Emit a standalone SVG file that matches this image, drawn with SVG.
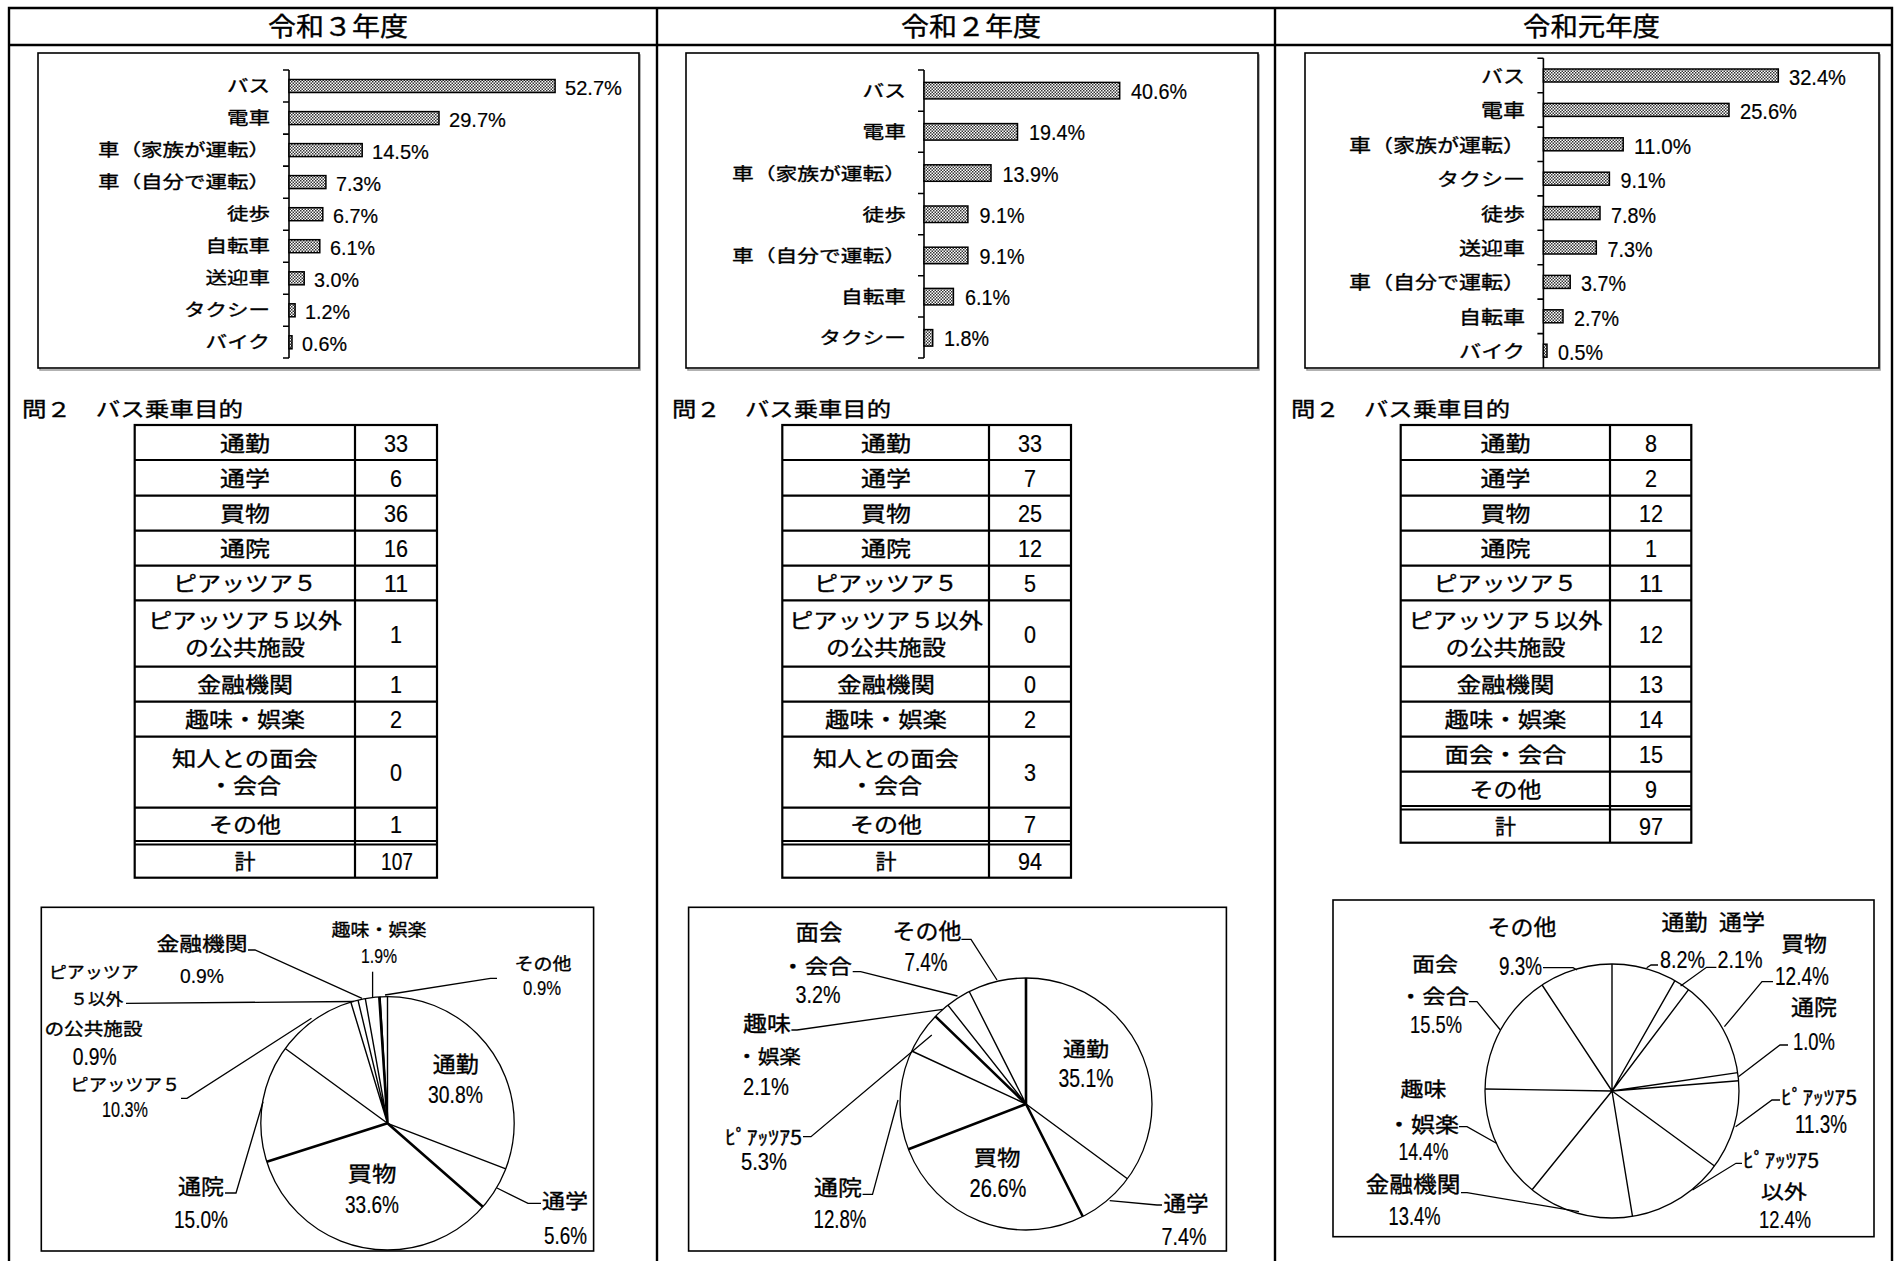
<svg xmlns="http://www.w3.org/2000/svg" width="1895" height="1261" viewBox="0 0 1895 1261">
<defs>
<pattern id="dots" width="3" height="3" patternUnits="userSpaceOnUse"><rect width="3" height="3" fill="#fff"/><rect width="1.5" height="1.5" fill="#333"/><rect x="1.5" y="1.5" width="1.5" height="1.5" fill="#333"/></pattern>
<style>
.j{font-family:"Noto Sans CJK JP","Noto Sans CJK SC",sans-serif;fill:#000;stroke:#000;stroke-width:0.35}
.n{font-family:"Liberation Sans",Arial,sans-serif;fill:#000;stroke:#000;stroke-width:0.2}
.m{text-anchor:middle}
.e{text-anchor:end}
.frame{fill:#fff;stroke:#000;stroke-width:1.6}
.shadow{fill:none;stroke:#999;stroke-width:1.5}
.bar{fill:url(#dots);stroke:#000;stroke-width:1.5}
.ax{fill:none;stroke:#000;stroke-width:1.6}
.tb{fill:none;stroke:#000;stroke-width:2.2}
.pie{fill:#fff;stroke:#000;stroke-width:1.3}
.sl{stroke:#000;stroke-width:1.4;fill:none}
.sl2{stroke:#000;stroke-width:2.6;fill:none}
.ld{stroke:#000;stroke-width:1.3;fill:none}
.out{stroke:#000;stroke-width:2.4;fill:none}
</style>
</defs>
<rect width="1895" height="1261" fill="#fff"/>

<g id="layout">
<path class="out" d="M9,1262 V8 H1892 V1262 M9,45 H1892 M657,8 V1262 M1275,8 V1262"/>
<text class="j" x="268" y="36" font-size="26" textLength="140" lengthAdjust="spacingAndGlyphs">令和３年度</text>
<text class="j" x="901" y="36" font-size="26" textLength="140" lengthAdjust="spacingAndGlyphs">令和２年度</text>
<text class="j" x="1523" y="36" font-size="26" textLength="137" lengthAdjust="spacingAndGlyphs">令和元年度</text>
<text class="j" x="22" y="417" font-size="20" textLength="221" lengthAdjust="spacingAndGlyphs">問２　バス乗車目的</text>
<text class="j" x="672" y="417" font-size="20" textLength="219" lengthAdjust="spacingAndGlyphs">問２　バス乗車目的</text>
<text class="j" x="1291" y="417" font-size="20" textLength="219" lengthAdjust="spacingAndGlyphs">問２　バス乗車目的</text>
</g>

<g id="bar-r3">
<rect class="shadow" x="40" y="55" width="600" height="315"/>
<rect class="frame" x="38" y="53" width="601" height="315"/>
<path class="ax" d="M289,70 V358 M283,70 H289 M283,102 H289 M283,134.1 H289 M283,166.1 H289 M283,198.2 H289 M283,230.2 H289 M283,262.2 H289 M283,294.3 H289 M283,326.3 H289 M283,358 H289"/>
<rect class="bar" x="289" y="79.5" width="266.1" height="13"/>
<rect class="bar" x="289" y="111.6" width="150" height="13"/>
<rect class="bar" x="289" y="143.6" width="73.2" height="13"/>
<rect class="bar" x="289" y="175.6" width="36.9" height="13"/>
<rect class="bar" x="289" y="207.7" width="33.8" height="13"/>
<rect class="bar" x="289" y="239.7" width="30.8" height="13"/>
<rect class="bar" x="289" y="271.8" width="15.2" height="13"/>
<rect class="bar" x="289" y="303.8" width="6.1" height="13"/>
<rect class="bar" x="289" y="335.8" width="3" height="13"/>
<g class="j e" font-size="17">
<text x="270" y="92" textLength="43" lengthAdjust="spacingAndGlyphs">バス</text>
<text x="270" y="124.1" textLength="43" lengthAdjust="spacingAndGlyphs">電車</text>
<text x="270" y="156.1" textLength="172" lengthAdjust="spacingAndGlyphs">車（家族が運転）</text>
<text x="270" y="188.1" textLength="172" lengthAdjust="spacingAndGlyphs">車（自分で運転）</text>
<text x="270" y="220.2" textLength="43" lengthAdjust="spacingAndGlyphs">徒歩</text>
<text x="270" y="252.2" textLength="64.5" lengthAdjust="spacingAndGlyphs">自転車</text>
<text x="270" y="284.3" textLength="64.5" lengthAdjust="spacingAndGlyphs">送迎車</text>
<text x="270" y="316.3" textLength="86" lengthAdjust="spacingAndGlyphs">タクシー</text>
<text x="270" y="348.3" textLength="64.5" lengthAdjust="spacingAndGlyphs">バイク</text>
</g>
<g class="n" font-size="21">
<text x="565" y="94.5" textLength="57" lengthAdjust="spacingAndGlyphs">52.7%</text>
<text x="449" y="126.6" textLength="57" lengthAdjust="spacingAndGlyphs">29.7%</text>
<text x="372" y="158.6" textLength="57" lengthAdjust="spacingAndGlyphs">14.5%</text>
<text x="336" y="190.6" textLength="45" lengthAdjust="spacingAndGlyphs">7.3%</text>
<text x="333" y="222.7" textLength="45" lengthAdjust="spacingAndGlyphs">6.7%</text>
<text x="330" y="254.7" textLength="45" lengthAdjust="spacingAndGlyphs">6.1%</text>
<text x="314" y="286.8" textLength="45" lengthAdjust="spacingAndGlyphs">3.0%</text>
<text x="305" y="318.8" textLength="45" lengthAdjust="spacingAndGlyphs">1.2%</text>
<text x="302" y="350.8" textLength="45" lengthAdjust="spacingAndGlyphs">0.6%</text>
</g>
</g>

<g id="bar-r2">
<rect class="shadow" x="688" y="55" width="571" height="315"/>
<rect class="frame" x="686" y="53" width="572" height="315"/>
<path class="ax" d="M924,70 V358 M918,70 H924 M918,111.2 H924 M918,152.3 H924 M918,193.5 H924 M918,234.7 H924 M918,275.8 H924 M918,317 H924 M918,358 H924"/>
<rect class="bar" x="924" y="82.4" width="195.7" height="16.5"/>
<rect class="bar" x="924" y="123.6" width="93.5" height="16.5"/>
<rect class="bar" x="924" y="164.8" width="67" height="16.5"/>
<rect class="bar" x="924" y="206" width="43.9" height="16.5"/>
<rect class="bar" x="924" y="247.2" width="43.9" height="16.5"/>
<rect class="bar" x="924" y="288.4" width="29.4" height="16.5"/>
<rect class="bar" x="924" y="329.6" width="8.7" height="16.5"/>
<g class="j e" font-size="17">
<text x="906" y="97.1" textLength="43.4" lengthAdjust="spacingAndGlyphs">バス</text>
<text x="906" y="138.3" textLength="43.4" lengthAdjust="spacingAndGlyphs">電車</text>
<text x="906" y="179.5" textLength="174" lengthAdjust="spacingAndGlyphs">車（家族が運転）</text>
<text x="906" y="220.7" textLength="43.4" lengthAdjust="spacingAndGlyphs">徒歩</text>
<text x="906" y="261.9" textLength="174" lengthAdjust="spacingAndGlyphs">車（自分で運転）</text>
<text x="906" y="303.1" textLength="65" lengthAdjust="spacingAndGlyphs">自転車</text>
<text x="906" y="344.3" textLength="86.8" lengthAdjust="spacingAndGlyphs">タクシー</text>
</g>
<g class="n" font-size="22">
<text x="1131" y="99.1" textLength="56" lengthAdjust="spacingAndGlyphs">40.6%</text>
<text x="1029" y="140.3" textLength="56" lengthAdjust="spacingAndGlyphs">19.4%</text>
<text x="1002.5" y="181.5" textLength="56" lengthAdjust="spacingAndGlyphs">13.9%</text>
<text x="979.5" y="222.7" textLength="45" lengthAdjust="spacingAndGlyphs">9.1%</text>
<text x="979.5" y="263.9" textLength="45" lengthAdjust="spacingAndGlyphs">9.1%</text>
<text x="965" y="305.1" textLength="45" lengthAdjust="spacingAndGlyphs">6.1%</text>
<text x="944" y="346.3" textLength="45" lengthAdjust="spacingAndGlyphs">1.8%</text>
</g>
</g>

<g id="bar-r1">
<rect class="shadow" x="1307" y="55" width="573" height="315"/>
<rect class="frame" x="1305" y="53" width="574" height="315"/>
<path class="ax" d="M1543.4,58.3 V368 M1537.4,58.3 H1543.4 M1537.4,92.7 H1543.4 M1537.4,127.1 H1543.4 M1537.4,161.5 H1543.4 M1537.4,195.9 H1543.4 M1537.4,230.3 H1543.4 M1537.4,264.7 H1543.4 M1537.4,299.1 H1543.4 M1537.4,333.6 H1543.4"/>
<rect class="bar" x="1543.4" y="69" width="234.9" height="13"/>
<rect class="bar" x="1543.4" y="103.4" width="185.6" height="13"/>
<rect class="bar" x="1543.4" y="137.8" width="79.8" height="13"/>
<rect class="bar" x="1543.4" y="172.2" width="66" height="13"/>
<rect class="bar" x="1543.4" y="206.6" width="56.6" height="13"/>
<rect class="bar" x="1543.4" y="241" width="52.9" height="13"/>
<rect class="bar" x="1543.4" y="275.4" width="26.8" height="13"/>
<rect class="bar" x="1543.4" y="309.8" width="19.6" height="13"/>
<rect class="bar" x="1543.4" y="344.2" width="3.6" height="13"/>
<g class="j e" font-size="18">
<text x="1525" y="83" textLength="44" lengthAdjust="spacingAndGlyphs">バス</text>
<text x="1525" y="117.4" textLength="44" lengthAdjust="spacingAndGlyphs">電車</text>
<text x="1525" y="151.8" textLength="176" lengthAdjust="spacingAndGlyphs">車（家族が運転）</text>
<text x="1525" y="186.2" textLength="88" lengthAdjust="spacingAndGlyphs">タクシー</text>
<text x="1525" y="220.6" textLength="44" lengthAdjust="spacingAndGlyphs">徒歩</text>
<text x="1525" y="255" textLength="66" lengthAdjust="spacingAndGlyphs">送迎車</text>
<text x="1525" y="289.4" textLength="176" lengthAdjust="spacingAndGlyphs">車（自分で運転）</text>
<text x="1525" y="323.8" textLength="66" lengthAdjust="spacingAndGlyphs">自転車</text>
<text x="1525" y="358.2" textLength="66" lengthAdjust="spacingAndGlyphs">バイク</text>
</g>
<g class="n" font-size="22">
<text x="1789" y="85" textLength="57" lengthAdjust="spacingAndGlyphs">32.4%</text>
<text x="1740" y="119.4" textLength="57" lengthAdjust="spacingAndGlyphs">25.6%</text>
<text x="1634" y="153.8" textLength="57" lengthAdjust="spacingAndGlyphs">11.0%</text>
<text x="1620.5" y="188.2" textLength="45" lengthAdjust="spacingAndGlyphs">9.1%</text>
<text x="1611" y="222.6" textLength="45" lengthAdjust="spacingAndGlyphs">7.8%</text>
<text x="1607.5" y="257" textLength="45" lengthAdjust="spacingAndGlyphs">7.3%</text>
<text x="1581" y="291.4" textLength="45" lengthAdjust="spacingAndGlyphs">3.7%</text>
<text x="1574" y="325.8" textLength="45" lengthAdjust="spacingAndGlyphs">2.7%</text>
<text x="1558" y="360.2" textLength="45" lengthAdjust="spacingAndGlyphs">0.5%</text>
</g>
</g>

<g id="table-r3">
<rect class="tb" x="134.7" y="425" width="302.3" height="452.7"/>
<path class="tb" d="M134.7,460 H437 M134.7,495.7 H437 M134.7,530.7 H437 M134.7,565.7 H437 M134.7,600.3 H437 M134.7,666.7 H437 M134.7,701.7 H437 M134.7,736.7 H437 M134.7,807.7 H437 M134.7,841 H437 M134.7,844.5 H437 M355,425 V877.7"/>
<g class="j m" font-size="21">
<text x="245" y="450.5" textLength="50" lengthAdjust="spacingAndGlyphs">通勤</text>
<text x="245" y="485.8" textLength="50" lengthAdjust="spacingAndGlyphs">通学</text>
<text x="245" y="521.2" textLength="50" lengthAdjust="spacingAndGlyphs">買物</text>
<text x="245" y="556.2" textLength="50" lengthAdjust="spacingAndGlyphs">通院</text>
<text x="245" y="591" textLength="144" lengthAdjust="spacingAndGlyphs">ピアッツア５</text>
<text x="245" y="628" textLength="194" lengthAdjust="spacingAndGlyphs">ピアッツア５以外</text>
<text x="245" y="655" textLength="120" lengthAdjust="spacingAndGlyphs">の公共施設</text>
<text x="245" y="692.2" textLength="96" lengthAdjust="spacingAndGlyphs">金融機関</text>
<text x="245" y="727.2" textLength="120" lengthAdjust="spacingAndGlyphs">趣味・娯楽</text>
<text x="245" y="766" textLength="146" lengthAdjust="spacingAndGlyphs">知人との面会</text>
<text x="245" y="793" textLength="72" lengthAdjust="spacingAndGlyphs">・会合</text>
<text x="245" y="832.3" textLength="72" lengthAdjust="spacingAndGlyphs">その他</text>
<text x="245" y="869">計</text>
</g>
<g class="n m" font-size="24">
<text x="396" y="451.5" textLength="24" lengthAdjust="spacingAndGlyphs">33</text>
<text x="396" y="486.8" textLength="12" lengthAdjust="spacingAndGlyphs">6</text>
<text x="396" y="522.2" textLength="24" lengthAdjust="spacingAndGlyphs">36</text>
<text x="396" y="557.2" textLength="24" lengthAdjust="spacingAndGlyphs">16</text>
<text x="396" y="592" textLength="24" lengthAdjust="spacingAndGlyphs">11</text>
<text x="396" y="642.5" textLength="12" lengthAdjust="spacingAndGlyphs">1</text>
<text x="396" y="693.2" textLength="12" lengthAdjust="spacingAndGlyphs">1</text>
<text x="396" y="728.2" textLength="12" lengthAdjust="spacingAndGlyphs">2</text>
<text x="396" y="781.2" textLength="12" lengthAdjust="spacingAndGlyphs">0</text>
<text x="396" y="833.3" textLength="12" lengthAdjust="spacingAndGlyphs">1</text>
<text x="397" y="870" textLength="32" lengthAdjust="spacingAndGlyphs">107</text>
</g>
</g>

<g id="table-r2">
<rect class="tb" x="782.3" y="425" width="288.7" height="452.7"/>
<path class="tb" d="M782.3,460 H1071 M782.3,495.7 H1071 M782.3,530.7 H1071 M782.3,565.7 H1071 M782.3,600.3 H1071 M782.3,666.7 H1071 M782.3,701.7 H1071 M782.3,736.7 H1071 M782.3,807.7 H1071 M782.3,841 H1071 M782.3,844.5 H1071 M989,425 V877.7"/>
<g class="j m" font-size="21">
<text x="886" y="450.5" textLength="50" lengthAdjust="spacingAndGlyphs">通勤</text>
<text x="886" y="485.8" textLength="50" lengthAdjust="spacingAndGlyphs">通学</text>
<text x="886" y="521.2" textLength="50" lengthAdjust="spacingAndGlyphs">買物</text>
<text x="886" y="556.2" textLength="50" lengthAdjust="spacingAndGlyphs">通院</text>
<text x="886" y="591" textLength="144" lengthAdjust="spacingAndGlyphs">ピアッツア５</text>
<text x="886" y="628" textLength="194" lengthAdjust="spacingAndGlyphs">ピアッツア５以外</text>
<text x="886" y="655" textLength="120" lengthAdjust="spacingAndGlyphs">の公共施設</text>
<text x="886" y="692.2" textLength="98" lengthAdjust="spacingAndGlyphs">金融機関</text>
<text x="886" y="727.2" textLength="122" lengthAdjust="spacingAndGlyphs">趣味・娯楽</text>
<text x="886" y="766" textLength="146" lengthAdjust="spacingAndGlyphs">知人との面会</text>
<text x="886" y="793" textLength="72" lengthAdjust="spacingAndGlyphs">・会合</text>
<text x="886" y="832.3" textLength="72" lengthAdjust="spacingAndGlyphs">その他</text>
<text x="886" y="869">計</text>
</g>
<g class="n m" font-size="24">
<text x="1030" y="451.5" textLength="24" lengthAdjust="spacingAndGlyphs">33</text>
<text x="1030" y="486.8" textLength="12" lengthAdjust="spacingAndGlyphs">7</text>
<text x="1030" y="522.2" textLength="24" lengthAdjust="spacingAndGlyphs">25</text>
<text x="1030" y="557.2" textLength="24" lengthAdjust="spacingAndGlyphs">12</text>
<text x="1030" y="592" textLength="12" lengthAdjust="spacingAndGlyphs">5</text>
<text x="1030" y="642.5" textLength="12" lengthAdjust="spacingAndGlyphs">0</text>
<text x="1030" y="693.2" textLength="12" lengthAdjust="spacingAndGlyphs">0</text>
<text x="1030" y="728.2" textLength="12" lengthAdjust="spacingAndGlyphs">2</text>
<text x="1030" y="781.2" textLength="12" lengthAdjust="spacingAndGlyphs">3</text>
<text x="1030" y="833.3" textLength="12" lengthAdjust="spacingAndGlyphs">7</text>
<text x="1030" y="870" textLength="24" lengthAdjust="spacingAndGlyphs">94</text>
</g>
</g>

<g id="table-r1">
<rect class="tb" x="1400.7" y="425" width="290.6" height="417.7"/>
<path class="tb" d="M1400.7,460 H1691.3 M1400.7,495.7 H1691.3 M1400.7,530.7 H1691.3 M1400.7,565.7 H1691.3 M1400.7,600.3 H1691.3 M1400.7,666.7 H1691.3 M1400.7,701.7 H1691.3 M1400.7,736.7 H1691.3 M1400.7,771.7 H1691.3 M1400.7,806 H1691.3 M1400.7,809.5 H1691.3 M1610,425 V842.7"/>
<g class="j m" font-size="21">
<text x="1505.5" y="450.5" textLength="50" lengthAdjust="spacingAndGlyphs">通勤</text>
<text x="1505.5" y="485.8" textLength="50" lengthAdjust="spacingAndGlyphs">通学</text>
<text x="1505.5" y="521.2" textLength="50" lengthAdjust="spacingAndGlyphs">買物</text>
<text x="1505.5" y="556.2" textLength="50" lengthAdjust="spacingAndGlyphs">通院</text>
<text x="1505.5" y="591" textLength="144" lengthAdjust="spacingAndGlyphs">ピアッツア５</text>
<text x="1505.5" y="628" textLength="194" lengthAdjust="spacingAndGlyphs">ピアッツア５以外</text>
<text x="1505.5" y="655" textLength="120" lengthAdjust="spacingAndGlyphs">の公共施設</text>
<text x="1505.5" y="692.2" textLength="98" lengthAdjust="spacingAndGlyphs">金融機関</text>
<text x="1505.5" y="727.2" textLength="122" lengthAdjust="spacingAndGlyphs">趣味・娯楽</text>
<text x="1505.5" y="762.2" textLength="122" lengthAdjust="spacingAndGlyphs">面会・会合</text>
<text x="1505.5" y="796.8" textLength="72" lengthAdjust="spacingAndGlyphs">その他</text>
<text x="1505.5" y="834.3">計</text>
</g>
<g class="n m" font-size="24">
<text x="1651" y="451.5" textLength="12" lengthAdjust="spacingAndGlyphs">8</text>
<text x="1651" y="486.8" textLength="12" lengthAdjust="spacingAndGlyphs">2</text>
<text x="1651" y="522.2" textLength="24" lengthAdjust="spacingAndGlyphs">12</text>
<text x="1651" y="557.2" textLength="12" lengthAdjust="spacingAndGlyphs">1</text>
<text x="1651" y="592" textLength="24" lengthAdjust="spacingAndGlyphs">11</text>
<text x="1651" y="642.5" textLength="24" lengthAdjust="spacingAndGlyphs">12</text>
<text x="1651" y="693.2" textLength="24" lengthAdjust="spacingAndGlyphs">13</text>
<text x="1651" y="728.2" textLength="24" lengthAdjust="spacingAndGlyphs">14</text>
<text x="1651" y="763.2" textLength="24" lengthAdjust="spacingAndGlyphs">15</text>
<text x="1651" y="797.8" textLength="12" lengthAdjust="spacingAndGlyphs">9</text>
<text x="1651" y="835.3" textLength="24" lengthAdjust="spacingAndGlyphs">97</text>
</g>
</g>

<g id="pie-r3">
<rect class="frame" x="41.3" y="907.3" width="552.3" height="343.7"/>
<circle class="pie" cx="387.5" cy="1123.3" r="126.7"/>
<path class="sl" d="M387.5,1123.3 L387.5,996.6 M387.5,1123.3 L505.8,1168.8 M387.5,1123.3 L285.2,1048.5 M387.5,1123.3 L350.8,1002 M387.5,1123.3 L358,1000.1 M387.5,1123.3 L365.3,998.6 M387.5,1123.3 L380.1,996.8"/>
<path class="sl2" d="M387.5,1123.3 L482.8,1206.8 M387.5,1123.3 L266.8,1161.7 M387.5,1123.3 L379.3,996.8"/>
<g class="j m">
<text x="455.7" y="1072" font-size="22" textLength="46" lengthAdjust="spacingAndGlyphs">通勤</text>
<text x="372" y="1181" font-size="21" textLength="49" lengthAdjust="spacingAndGlyphs">買物</text>
<text x="565" y="1209" font-size="20" textLength="46" lengthAdjust="spacingAndGlyphs">通学</text>
<text x="201" y="1194" font-size="21" textLength="46" lengthAdjust="spacingAndGlyphs">通院</text>
<text x="125.3" y="1091" font-size="17" textLength="110" lengthAdjust="spacingAndGlyphs">ピアッツア５</text>
<text x="93.8" y="978" font-size="16" textLength="90" lengthAdjust="spacingAndGlyphs">ピアッツア</text>
<text x="96.8" y="1005" font-size="16" textLength="53" lengthAdjust="spacingAndGlyphs">５以外</text>
<text x="93.5" y="1035" font-size="17" textLength="98" lengthAdjust="spacingAndGlyphs">の公共施設</text>
<text x="202" y="951" font-size="19" textLength="91" lengthAdjust="spacingAndGlyphs">金融機関</text>
<text x="379" y="936" font-size="17" textLength="95" lengthAdjust="spacingAndGlyphs">趣味・娯楽</text>
<text x="543" y="970" font-size="17" textLength="57" lengthAdjust="spacingAndGlyphs">その他</text>
</g>
<g class="n m">
<text x="455.5" y="1103" font-size="24" textLength="55" lengthAdjust="spacingAndGlyphs">30.8%</text>
<text x="372" y="1213" font-size="24" textLength="54" lengthAdjust="spacingAndGlyphs">33.6%</text>
<text x="565.5" y="1244" font-size="23" textLength="43" lengthAdjust="spacingAndGlyphs">5.6%</text>
<text x="201" y="1228" font-size="23" textLength="54" lengthAdjust="spacingAndGlyphs">15.0%</text>
<text x="125" y="1117" font-size="22" textLength="46" lengthAdjust="spacingAndGlyphs">10.3%</text>
<text x="94.7" y="1065" font-size="23" textLength="44" lengthAdjust="spacingAndGlyphs">0.9%</text>
<text x="202" y="983" font-size="21" textLength="44" lengthAdjust="spacingAndGlyphs">0.9%</text>
<text x="379" y="963" font-size="20" textLength="36" lengthAdjust="spacingAndGlyphs">1.9%</text>
<text x="542" y="995" font-size="20" textLength="38" lengthAdjust="spacingAndGlyphs">0.9%</text>
</g>
</g>

<g id="pie-r2">
<rect class="frame" x="688.6" y="907.3" width="537.8" height="343.7"/>
<circle class="pie" cx="1026" cy="1104" r="126"/>
<path class="sl" d="M1026,1104 L1127.4,1178.8 M1026,1104 L911.7,1051 M1026,1104 L947.9,1005.1 M1026,1104 L969.2,991.5"/>
<path class="sl2" d="M1026,1104 L1026,978 M1026,1104 L1082.8,1216.5 M1026,1104 L908.4,1149.3 M1026,1104 L935.4,1016.4"/>
<g class="j m">
<text x="1086" y="1057" font-size="20" textLength="46" lengthAdjust="spacingAndGlyphs">通勤</text>
<text x="997" y="1165" font-size="21" textLength="47" lengthAdjust="spacingAndGlyphs">買物</text>
<text x="1186" y="1211" font-size="21" textLength="45" lengthAdjust="spacingAndGlyphs">通学</text>
<text x="838" y="1195" font-size="21" textLength="48" lengthAdjust="spacingAndGlyphs">通院</text>
<text x="763.5" y="1145" font-size="20" textLength="77" lengthAdjust="spacingAndGlyphs">ﾋﾟｱｯﾂｱ5</text>
<text x="767" y="1031" font-size="21" textLength="48" lengthAdjust="spacingAndGlyphs">趣味</text>
<text x="819" y="940" font-size="22" textLength="47" lengthAdjust="spacingAndGlyphs">面会</text>
<text x="927" y="939" font-size="22" textLength="69" lengthAdjust="spacingAndGlyphs">その他</text>
</g>
<g class="j">
<text x="736" y="1064" font-size="19" textLength="65" lengthAdjust="spacingAndGlyphs">・娯楽</text>
<text x="781" y="974" font-size="20" textLength="71" lengthAdjust="spacingAndGlyphs">・会合</text>
</g>
<g class="n m">
<text x="1086" y="1087" font-size="25" textLength="55" lengthAdjust="spacingAndGlyphs">35.1%</text>
<text x="998" y="1197" font-size="26" textLength="57" lengthAdjust="spacingAndGlyphs">26.6%</text>
<text x="1184" y="1245" font-size="24" textLength="45" lengthAdjust="spacingAndGlyphs">7.4%</text>
<text x="840" y="1228" font-size="26" textLength="53" lengthAdjust="spacingAndGlyphs">12.8%</text>
<text x="764" y="1170" font-size="23" textLength="46" lengthAdjust="spacingAndGlyphs">5.3%</text>
<text x="766" y="1095" font-size="24" textLength="46" lengthAdjust="spacingAndGlyphs">2.1%</text>
<text x="818" y="1003" font-size="24" textLength="45" lengthAdjust="spacingAndGlyphs">3.2%</text>
<text x="926" y="971" font-size="25" textLength="43" lengthAdjust="spacingAndGlyphs">7.4%</text>
</g>
</g>

<g id="pie-r1">
<rect class="frame" x="1333" y="900" width="541" height="336.7"/>
<circle class="pie" cx="1612" cy="1091" r="127"/>
<path class="sl" d="M1612,1091 L1612,964 M1612,1091 L1674.9,980.7 M1612,1091 L1688.6,989.7 M1612,1091 L1737.7,1072.6 M1612,1091 L1738.6,1080.7 M1612,1091 L1714.5,1166 M1612,1091 L1632.5,1216.3 M1612,1091 L1532.1,1189.7 M1612,1091 L1485,1089 M1612,1091 L1542.1,985"/>
<g class="j m">
<text x="1522" y="935" font-size="22" textLength="69" lengthAdjust="spacingAndGlyphs">その他</text>
<text x="1435" y="972" font-size="20" textLength="46" lengthAdjust="spacingAndGlyphs">面会</text>
<text x="1423.5" y="1097" font-size="20" textLength="46" lengthAdjust="spacingAndGlyphs">趣味</text>
<text x="1413" y="1192" font-size="22" textLength="95" lengthAdjust="spacingAndGlyphs">金融機関</text>
<text x="1684.5" y="930" font-size="22" textLength="46" lengthAdjust="spacingAndGlyphs">通勤</text>
<text x="1742" y="930" font-size="22" textLength="46" lengthAdjust="spacingAndGlyphs">通学</text>
<text x="1804" y="951" font-size="21" textLength="46" lengthAdjust="spacingAndGlyphs">買物</text>
<text x="1814" y="1015" font-size="22" textLength="46" lengthAdjust="spacingAndGlyphs">通院</text>
<text x="1819" y="1105" font-size="20" textLength="76" lengthAdjust="spacingAndGlyphs">ﾋﾟｱｯﾂｱ5</text>
<text x="1781" y="1168" font-size="20" textLength="76" lengthAdjust="spacingAndGlyphs">ﾋﾟｱｯﾂｱ5</text>
<text x="1784" y="1199" font-size="19" textLength="46" lengthAdjust="spacingAndGlyphs">以外</text>
</g>
<g class="j">
<text x="1399" y="1004" font-size="20" textLength="70" lengthAdjust="spacingAndGlyphs">・会合</text>
<text x="1387" y="1132" font-size="21" textLength="72" lengthAdjust="spacingAndGlyphs">・娯楽</text>
</g>
<g class="n m">
<text x="1520.5" y="975" font-size="25" textLength="43" lengthAdjust="spacingAndGlyphs">9.3%</text>
<text x="1436" y="1033" font-size="24" textLength="52" lengthAdjust="spacingAndGlyphs">15.5%</text>
<text x="1423.5" y="1160" font-size="24" textLength="50" lengthAdjust="spacingAndGlyphs">14.4%</text>
<text x="1414.5" y="1225" font-size="25" textLength="52" lengthAdjust="spacingAndGlyphs">13.4%</text>
<text x="1682.5" y="968" font-size="24" textLength="45" lengthAdjust="spacingAndGlyphs">8.2%</text>
<text x="1740" y="968" font-size="24" textLength="45" lengthAdjust="spacingAndGlyphs">2.1%</text>
<text x="1802" y="985" font-size="26" textLength="54" lengthAdjust="spacingAndGlyphs">12.4%</text>
<text x="1814" y="1050" font-size="24" textLength="42" lengthAdjust="spacingAndGlyphs">1.0%</text>
<text x="1821" y="1133" font-size="25" textLength="52" lengthAdjust="spacingAndGlyphs">11.3%</text>
<text x="1785" y="1228" font-size="24" textLength="52" lengthAdjust="spacingAndGlyphs">12.4%</text>
</g>
</g>

<g id="connectors">
<polyline class="ld" points="497,1188 528,1203.3 541,1203.3"/>
<polyline class="ld" points="225,1193 236,1193 263,1101.7"/>
<polyline class="ld" points="181,1098.3 187,1098.3 311.5,1018.3"/>
<polyline class="ld" points="126,1003.3 353.6,1001.5"/>
<polyline class="ld" points="248,950 255,950 362,998.3"/>
<polyline class="ld" points="372.6,971.7 372.6,997"/>
<polyline class="ld" points="385,995 490.5,978.3 497,978.3"/>
<polyline class="ld" points="1109.7,1200.7 1157,1205 1162,1205"/>
<polyline class="ld" points="862.6,1194.3 872.5,1194.3 898,1100"/>
<polyline class="ld" points="803,1136.7 811,1136.7 931.8,1035"/>
<polyline class="ld" points="791.4,1030 797,1030 942.8,1009.3"/>
<polyline class="ld" points="852.7,971.7 860.6,971.7 957.5,996"/>
<polyline class="ld" points="961.4,939.3 971,939.3 997,980"/>
<polyline class="ld" points="1543,967.7 1573,967.7 1577,970"/>
<polyline class="ld" points="1469,1001.7 1477,1001.7 1500.4,1030"/>
<polyline class="ld" points="1459,1126.7 1467,1126.7 1496.4,1143.3"/>
<polyline class="ld" points="1461,1192.7 1467,1192.7 1579,1211.7"/>
<polyline class="ld" points="1646.7,967.7 1651,965 1658,965"/>
<polyline class="ld" points="1716.4,967.3 1706.5,967.3 1680.6,986"/>
<polyline class="ld" points="1773,981.7 1762,981.7 1724.4,1026.7"/>
<polyline class="ld" points="1788,1045 1780,1045 1738.4,1076.7"/>
<polyline class="ld" points="1780,1100 1772,1100 1735.6,1126.7"/>
<polyline class="ld" points="1742,1163.3 1736,1163.3 1692.5,1190"/>
</g>
</svg>
